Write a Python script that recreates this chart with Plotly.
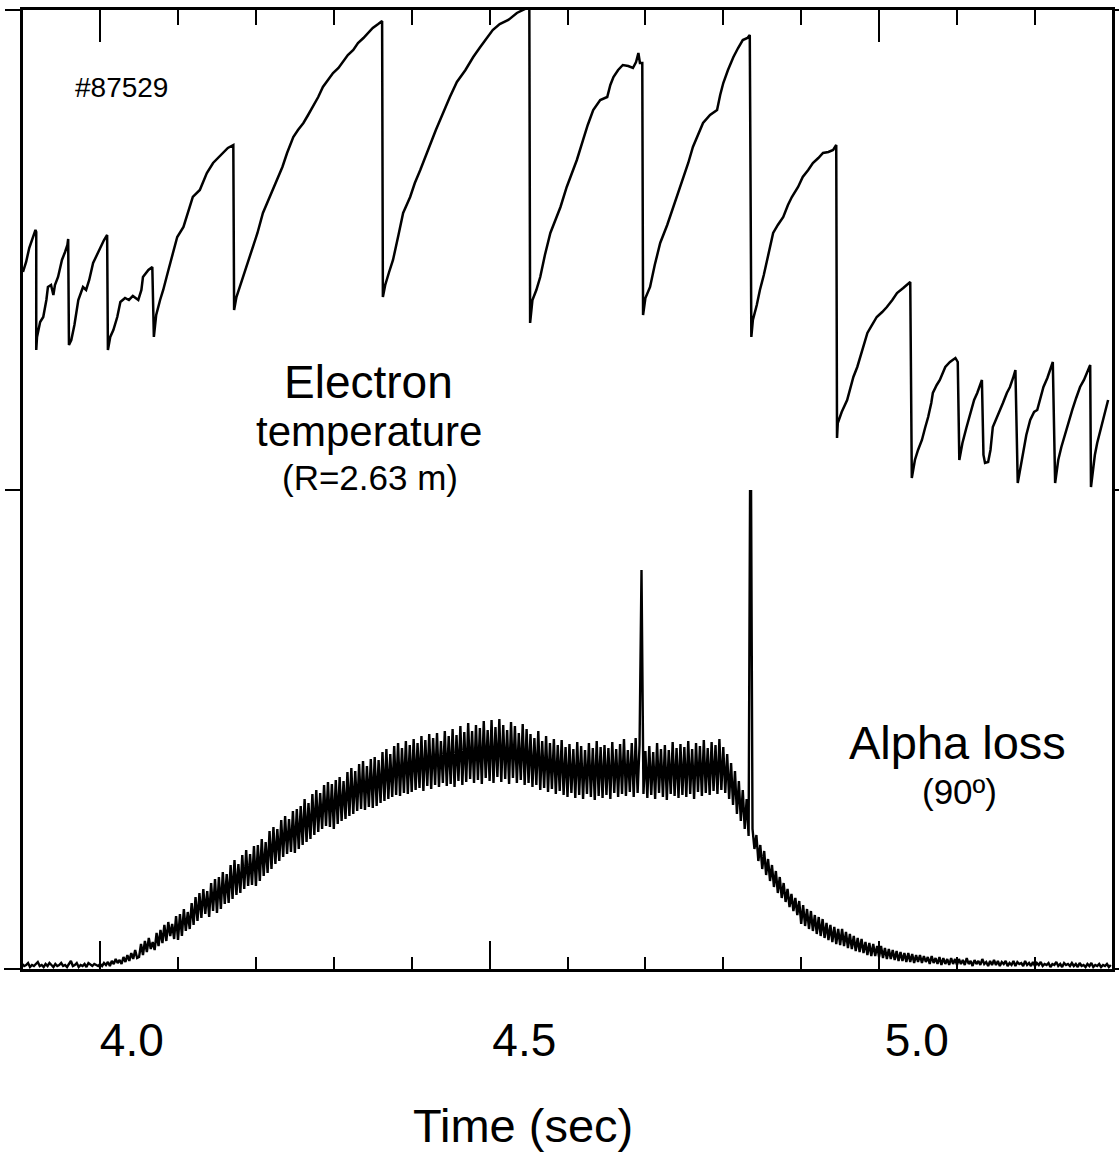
import numpy as np
import plotly.graph_objects as go

# ---------------- data ----------------
# Electron temperature (R=2.63 m), time in s, Te in keV (arbitrary offset)
te_t = [3.901, 3.905, 3.909, 3.913, 3.917, 3.918, 3.918,
        3.919, 3.923, 3.927, 3.931, 3.933, 3.937, 3.940, 3.942, 3.946, 3.951, 3.955, 3.958, 3.959, 3.960,
        3.963, 3.967, 3.972, 3.976, 3.978, 3.982, 3.986, 3.991, 3.996, 4.000, 4.005, 4.009, 4.010,
        4.013, 4.017, 4.022, 4.026, 4.032, 4.037, 4.042, 4.049, 4.053, 4.055, 4.062, 4.067, 4.069,
        4.072, 4.077, 4.081, 4.087, 4.094, 4.099, 4.107, 4.113, 4.119, 4.128, 4.137, 4.145, 4.151, 4.158, 4.164, 4.171, 4.172,
        4.175, 4.180, 4.184, 4.189, 4.195, 4.202, 4.209, 4.218, 4.227, 4.234, 4.240, 4.248, 4.254, 4.261, 4.267, 4.273,
        4.280, 4.286, 4.293, 4.299, 4.306, 4.312, 4.318, 4.325, 4.331, 4.338, 4.344, 4.350, 4.357, 4.362, 4.363,
        4.366, 4.371, 4.376, 4.383, 4.389, 4.398, 4.404, 4.411, 4.418, 4.426, 4.431, 4.436, 4.443, 4.449, 4.458,
        4.469, 4.479, 4.488, 4.497, 4.504, 4.513, 4.524, 4.535, 4.542, 4.548, 4.551, 4.552,
        4.555, 4.560, 4.565, 4.571, 4.578, 4.584, 4.591, 4.599, 4.606, 4.612, 4.620, 4.626, 4.633, 4.642, 4.651,
        4.655, 4.659, 4.665, 4.671, 4.678, 4.684, 4.688, 4.691, 4.693, 4.696, 4.697,
        4.700, 4.706, 4.712, 4.719, 4.728, 4.736, 4.742, 4.748, 4.755, 4.761, 4.768, 4.774, 4.783, 4.792, 4.796,
        4.800, 4.806, 4.813, 4.819, 4.825, 4.831, 4.834, 4.836,
        4.838, 4.843, 4.847, 4.852, 4.856, 4.860, 4.864, 4.870, 4.877, 4.883, 4.888, 4.896, 4.902, 4.909, 4.915,
        4.922, 4.928, 4.935, 4.941, 4.945, 4.946,
        4.947, 4.952, 4.959, 4.963, 4.967, 4.972, 4.976, 4.981, 4.985, 4.991, 4.997, 5.004, 5.010, 5.017, 5.023,
        5.031, 5.040, 5.042,
        5.046, 5.050, 5.055, 5.059, 5.063, 5.067, 5.069, 5.074, 5.078, 5.085, 5.091, 5.098, 5.101, 5.103,
        5.107, 5.112, 5.117, 5.122, 5.126, 5.130, 5.132, 5.134, 5.136, 5.140, 5.143, 5.146, 5.153, 5.159, 5.164,
        5.168, 5.172, 5.175, 5.178,
        5.181, 5.185, 5.189, 5.194, 5.199, 5.203, 5.207, 5.211, 5.216, 5.220, 5.223, 5.226,
        5.230, 5.234, 5.239, 5.243, 5.248, 5.253, 5.258, 5.263, 5.267, 5.271, 5.272,
        5.275, 5.277, 5.280, 5.284, 5.288, 5.291, 5.294]
te_kev = [6.18, 6.28, 6.42, 6.52, 6.60, 6.58, 5.40,
          5.53, 5.68, 5.73, 5.90, 6.03, 6.05, 5.95, 6.05, 6.13, 6.30, 6.38, 6.45, 6.51, 5.45,
          5.50, 5.65, 5.90, 5.98, 6.03, 6.00, 6.10, 6.27, 6.35, 6.43, 6.50, 6.55, 5.40,
          5.53, 5.60, 5.73, 5.88, 5.92, 5.90, 5.94, 5.90, 6.00, 6.13, 6.20, 6.23, 5.53,
          5.75, 5.90, 6.00, 6.18, 6.37, 6.53, 6.63, 6.78, 6.93, 7.00, 7.17, 7.27, 7.32, 7.37, 7.42, 7.45, 5.80,
          5.93, 6.05, 6.15, 6.27, 6.42, 6.57, 6.77, 6.93, 7.10, 7.23, 7.37, 7.53, 7.60, 7.67, 7.75, 7.83,
          7.93, 8.03, 8.10, 8.17, 8.22, 8.28, 8.35, 8.40, 8.47, 8.52, 8.57, 8.62, 8.66, 8.69, 5.93,
          6.05, 6.18, 6.30, 6.55, 6.77, 6.93, 7.07, 7.20, 7.35, 7.50, 7.60, 7.70, 7.82, 7.93, 8.08,
          8.20, 8.33, 8.43, 8.53, 8.60, 8.66, 8.70, 8.77, 8.80, 8.82, 8.82, 5.67,
          5.90, 6.00, 6.13, 6.35, 6.57, 6.70, 6.83, 7.03, 7.18, 7.30, 7.50, 7.65, 7.80, 7.90, 7.93,
          8.05, 8.13, 8.20, 8.25, 8.24, 8.22, 8.28, 8.37, 8.27, 8.27, 5.75,
          5.92, 6.03, 6.25, 6.47, 6.65, 6.83, 6.97, 7.10, 7.27, 7.43, 7.57, 7.67, 7.75, 7.80, 7.95,
          8.07, 8.20, 8.33, 8.42, 8.50, 8.52, 8.55, 5.53,
          5.70, 5.85, 6.00, 6.15, 6.30, 6.45, 6.57, 6.65, 6.73, 6.85, 6.93, 7.03, 7.13, 7.20, 7.27,
          7.32, 7.37, 7.38, 7.40, 7.45, 4.52,
          4.67, 4.78, 4.90, 5.02, 5.13, 5.23, 5.33, 5.45, 5.57, 5.65, 5.73, 5.78, 5.83, 5.90, 5.97,
          6.02, 6.08, 4.12,
          4.30, 4.40, 4.50, 4.62, 4.73, 4.87, 4.97, 5.05, 5.10, 5.23, 5.28, 5.32, 5.28, 4.30,
          4.47, 4.62, 4.77, 4.90, 4.97, 5.05, 5.10, 4.35, 4.27, 4.28, 4.40, 4.63, 4.75, 4.87, 4.97,
          5.03, 5.12, 5.20, 4.07,
          4.20, 4.37, 4.55, 4.70, 4.78, 4.80, 4.92, 5.03, 5.12, 5.20, 5.28, 4.07,
          4.30, 4.43, 4.57, 4.68, 4.80, 4.92, 5.03, 5.10, 5.17, 5.25, 4.03,
          4.23, 4.35, 4.47, 4.60, 4.73, 4.83, 4.90]

# Alpha loss (90 deg detector), sampled every 2.5 ms from 3.900 s (arb. units)
alpha_t0 = 3.900
alpha_dt = 0.0025
alpha_loss = [
    0.05, 0.03, 0.04, 0.06, 0.02, 0.04, 0.03, 0.05, 0.07, 0.03, 0.04, 0.02, 0.05, 0.03, 0.06, 0.04, 0.02, 0.05, 0.03, 0.04,
    0.06, 0.03, 0.04, 0.02, 0.05, 0.08, 0.03, 0.04, 0.06, 0.02, 0.04, 0.03, 0.05, 0.02, 0.06, 0.04, 0.03, 0.05, 0.04, 0.03,
    0.05, 0.03, 0.06, 0.04, 0.07, 0.03, 0.08, 0.05, 0.10, 0.06, 0.09, 0.05, 0.12, 0.07, 0.14, 0.08, 0.16, 0.10, 0.19, 0.11,
    0.12, 0.25, 0.14, 0.28, 0.17, 0.31, 0.20, 0.27, 0.19, 0.36, 0.23, 0.39, 0.26, 0.44, 0.28, 0.47, 0.33, 0.45, 0.30, 0.53,
    0.29, 0.55, 0.33, 0.60, 0.38, 0.57, 0.40, 0.66, 0.44, 0.72, 0.48, 0.76, 0.51, 0.80, 0.55, 0.78, 0.52, 0.86, 0.58, 0.90,
    0.56, 0.92, 0.60, 0.97, 0.65, 0.95, 0.66, 1.04, 0.70, 1.09, 0.74, 1.05, 0.76, 1.14, 0.80, 1.19, 0.83, 1.15, 0.84, 1.23,
    0.83, 1.24, 0.88, 1.30, 0.93, 1.27, 0.96, 1.38, 1.00, 1.42, 1.05, 1.40, 1.08, 1.49, 1.12, 1.53, 1.15, 1.50, 1.17, 1.58,
    1.16, 1.60, 1.20, 1.63, 1.24, 1.70, 1.27, 1.66, 1.30, 1.75, 1.34, 1.79, 1.37, 1.76, 1.40, 1.84, 1.43, 1.87, 1.42, 1.85,
    1.40, 1.89, 1.45, 1.92, 1.48, 1.88, 1.50, 1.97, 1.53, 2.01, 1.55, 1.98, 1.58, 2.05, 1.60, 2.08, 1.59, 2.03, 1.62, 2.10,
    1.61, 2.12, 1.63, 2.09, 1.66, 2.17, 1.68, 2.20, 1.70, 2.15, 1.72, 2.23, 1.74, 2.26, 1.73, 2.21, 1.76, 2.28, 1.75, 2.24,
    1.77, 2.30, 1.79, 2.26, 1.81, 2.33, 1.78, 2.29, 1.83, 2.35, 1.80, 2.31, 1.84, 2.36, 1.82, 2.28, 1.86, 2.38, 1.83, 2.33,
    1.85, 2.40, 1.82, 2.34, 1.88, 2.43, 1.84, 2.37, 1.87, 2.46, 1.90, 2.38, 1.86, 2.44, 1.89, 2.41, 1.85, 2.48, 1.91, 2.39,
    1.88, 2.49, 1.86, 2.42, 1.92, 2.50, 1.87, 2.44, 1.90, 2.39, 1.85, 2.47, 1.91, 2.43, 1.86, 2.36, 1.89, 2.45, 1.84, 2.40,
    1.86, 2.35, 1.82, 2.31, 1.84, 2.38, 1.79, 2.28, 1.81, 2.33, 1.77, 2.26, 1.80, 2.30, 1.75, 2.24, 1.78, 2.29, 1.74, 2.22,
    1.72, 2.25, 1.76, 2.20, 1.71, 2.27, 1.74, 2.23, 1.70, 2.19, 1.75, 2.26, 1.72, 2.21, 1.69, 2.28, 1.73, 2.22, 1.71, 2.24,
    1.74, 2.21, 1.70, 2.27, 1.76, 2.20, 1.72, 2.25, 1.75, 2.30, 1.73, 2.19, 1.77, 2.26, 1.72, 2.31, 1.76, 2.24, 3.99, 1.75,
    2.18, 1.71, 2.23, 1.74, 2.17, 1.70, 2.26, 1.76, 2.20, 1.72, 2.24, 1.69, 2.19, 1.75, 2.27, 1.73, 2.21, 1.71, 2.25, 1.74,
    2.22, 1.72, 2.28, 1.75, 2.20, 1.70, 2.26, 1.77, 2.23, 1.73, 2.29, 1.76, 2.21, 1.74, 2.27, 1.78, 2.24, 1.75, 2.30, 1.79,
    2.22, 1.76, 2.15, 1.70, 2.06, 1.64, 1.98, 1.55, 1.88, 1.48, 1.79, 1.40, 1.70, 1.33, 6.00, 1.40, 1.20, 1.34, 1.08, 1.24,
    1.00, 1.18, 0.94, 1.10, 0.88, 1.04, 0.82, 0.98, 0.76, 0.92, 0.71, 0.86, 0.67, 0.80, 0.62, 0.75, 0.58, 0.71, 0.54, 0.68,
    0.45, 0.64, 0.43, 0.60, 0.40, 0.58, 0.38, 0.54, 0.35, 0.52, 0.33, 0.50, 0.31, 0.46, 0.29, 0.44, 0.27, 0.42, 0.25, 0.40,
    0.24, 0.40, 0.23, 0.37, 0.21, 0.35, 0.20, 0.33, 0.18, 0.31, 0.17, 0.30, 0.16, 0.27, 0.14, 0.26, 0.13, 0.25, 0.13, 0.23,
    0.12, 0.23, 0.11, 0.21, 0.10, 0.20, 0.10, 0.19, 0.09, 0.18, 0.08, 0.17, 0.08, 0.16, 0.07, 0.16, 0.07, 0.15, 0.06, 0.14,
    0.07, 0.14, 0.06, 0.13, 0.07, 0.12, 0.05, 0.13, 0.06, 0.11, 0.05, 0.12, 0.04, 0.11, 0.05, 0.10, 0.04, 0.11, 0.05, 0.10,
    0.04, 0.10, 0.05, 0.09, 0.04, 0.11, 0.05, 0.08, 0.03, 0.09, 0.05, 0.08, 0.04, 0.10, 0.05, 0.07, 0.03, 0.08, 0.04, 0.09,
    0.04, 0.08, 0.03, 0.07, 0.05, 0.08, 0.03, 0.06, 0.04, 0.08, 0.03, 0.07, 0.05, 0.06, 0.03, 0.08, 0.04, 0.06, 0.03, 0.07,
    0.03, 0.06, 0.04, 0.07, 0.03, 0.05, 0.04, 0.06, 0.02, 0.05, 0.04, 0.07, 0.03, 0.05, 0.02, 0.06, 0.04, 0.05, 0.03, 0.06,
    0.03, 0.05, 0.02, 0.06, 0.03, 0.04, 0.02, 0.05, 0.03, 0.06, 0.02, 0.04, 0.03, 0.05, 0.02, 0.04, 0.03, 0.05, 0.02, 0.04]
alpha_t = alpha_t0 + alpha_dt * np.arange(len(alpha_loss))

time_ticks = [4.0, 4.5, 5.0]
time_tick_text = ["4.0", "4.5", "5.0"]

# ---------------- figure ----------------
FONT = "Liberation Sans, Arial, Helvetica, sans-serif"
BLACK = "black"

fig = go.Figure()
fig.add_trace(go.Scatter(x=te_t, y=te_kev, xaxis="x2", yaxis="y2", mode="lines",
                         line=dict(color=BLACK, width=2.5), hoverinfo="skip"))
fig.add_trace(go.Scatter(x=alpha_t, y=alpha_loss, xaxis="x", yaxis="y", mode="lines",
                         line=dict(color=BLACK, width=2.4), hoverinfo="skip"))
# carriers for the label axis and the bottom frame-extension axis
fig.add_trace(go.Scatter(x=time_ticks, y=[0, 0, 0], xaxis="x3", yaxis="y", mode="markers",
                         marker=dict(opacity=0), hoverinfo="skip"))
fig.add_trace(go.Scatter(x=time_ticks, y=[0, 0, 0], xaxis="x", yaxis="y3", mode="markers",
                         marker=dict(opacity=0), hoverinfo="skip"))

t_range = [3.901, 5.299]
common_x = dict(showgrid=False, zeroline=False, showline=True, linecolor=BLACK, linewidth=2.5,
                ticks="inside", tickcolor=BLACK, tickwidth=2, showticklabels=False, automargin=False)

fig.update_layout(
    width=1119, height=1154,
    margin=dict(l=23, r=7, t=10, b=185, autoexpand=False),
    paper_bgcolor="white", plot_bgcolor="white",
    showlegend=False,
    font=dict(family=FONT, color=BLACK),
    xaxis=dict(domain=[0, 1], range=t_range, anchor="y", tick0=4.0, dtick=0.5, ticklen=28,
               minor=dict(ticks="inside", tick0=4.0, dtick=0.1, ticklen=12, tickwidth=2, tickcolor=BLACK),
               **common_x),
    xaxis2=dict(domain=[0, 1], range=t_range, anchor="y2", matches="x", side="top", tick0=4.0,
                dtick=1.0, ticklen=32,
                minor=dict(ticks="inside", tick0=4.0, dtick=0.1, ticklen=15, tickwidth=2, tickcolor=BLACK),
                **common_x),
    xaxis3=dict(overlaying="x", anchor="y", side="bottom", range=[3.8614, 5.2487],
                tickmode="array", tickvals=time_ticks, ticktext=time_tick_text, ticks="",
                showline=False, showgrid=False, zeroline=False, automargin=False,
                tickfont=dict(size=46, family=FONT, color=BLACK), ticklabelstandoff=40),
    yaxis=dict(domain=[0, 0.4995], range=[0, 4.79], anchor="x", showline=True, linecolor=BLACK,
               linewidth=2.5, mirror="ticks", ticks="inside", tickmode="array", tickvals=[4.79],
               ticklen=13, tickwidth=2, tickcolor=BLACK, showticklabels=False,
               showgrid=False, zeroline=False, automargin=False),
    yaxis2=dict(domain=[0.4995, 1], range=[4.0, 8.8], anchor="x2", showline=True, linecolor=BLACK,
                linewidth=2.5, mirror="ticks", ticks="outside", tickmode="array", tickvals=[4.0, 8.8],
                ticklen=15, tickwidth=2, tickcolor=BLACK, showticklabels=False,
                showgrid=False, zeroline=False, automargin=False),
    yaxis3=dict(overlaying="y", anchor="x", range=[0, 4.79], showline=True, linecolor=BLACK,
                linewidth=2.5, mirror="ticks", ticks="outside", tickmode="array", tickvals=[0],
                ticklen=16, tickwidth=2, tickcolor=BLACK, showticklabels=False,
                showgrid=False, zeroline=False, automargin=False),
)

def note(text, x, y, size):
    fig.add_annotation(text=text, x=x, y=y, xref="paper", yref="paper", showarrow=False,
                       xanchor="center", yanchor="middle",
                       font=dict(size=size, family=FONT, color=BLACK))

note("#87529", 0.0909, 0.9197, 28)
note("Electron", 0.3177, 0.6121, 46)
note("temperature", 0.3177, 0.5600, 42)
note("(R=2.63 m)", 0.3186, 0.5120, 35)
note("Alpha loss", 0.8577, 0.2357, 47)
note("(90º)", 0.8604, 0.1846, 35)
note("Time (sec)", 0.4591, -0.1627, 47)

fig.write_html("out.html")
